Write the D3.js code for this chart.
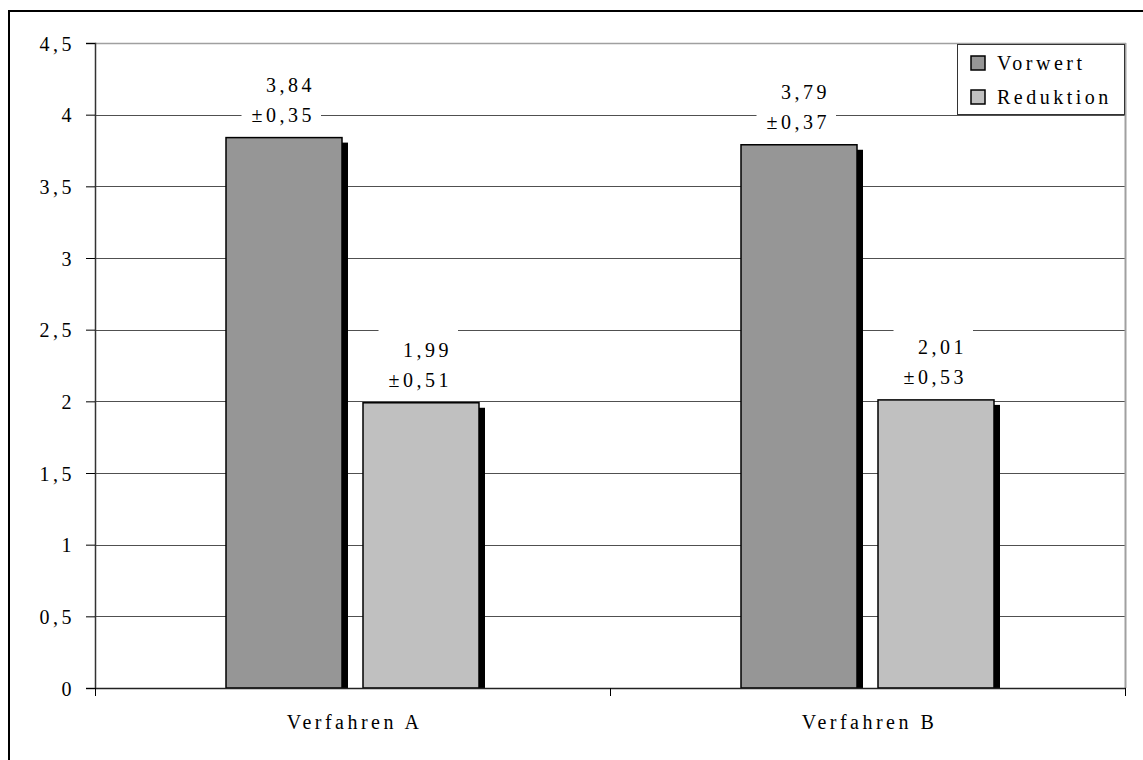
<!DOCTYPE html>
<html>
<head>
<meta charset="utf-8">
<script src="https://cdn.jsdelivr.net/npm/d3@7"></script>
<style>
  html, body { margin: 0; padding: 0; background: #fff; }
  svg text { font-family: "Liberation Serif", "Times New Roman", serif; font-size: 20px; fill: #000; letter-spacing: 3.5px; }
</style>
</head>
<body>
<svg id="chart" width="1143" height="760"></svg>
<script>
// Werte aus der Grafik
var categories = ["Verfahren A", "Verfahren B"];
var seriesNames = ["Vorwert", "Reduktion"];
var vorwert = [3.84, 3.79];
var reduktion = [1.99, 2.01];
var vorwertSd = [0.35, 0.37];
var reduktionSd = [0.51, 0.53];
var yTicks = [0, 0.5, 1, 1.5, 2, 2.5, 3, 3.5, 4, 4.5];
var seriesColors = ["#969696", "#c0c0c0"];

var de = d3.formatLocale({decimal: ",", thousands: ".", grouping: [3], currency: ["", " €"]});
var fmtTick = de.format("~g");
var fmtVal = de.format(".2f");

var svg = d3.select("#chart");

// Rahmen (rechts und unten abgeschnitten)
svg.append("rect")
	.attr("x", 9).attr("y", 11)
	.attr("width", 1160).attr("height", 780)
	.attr("fill", "none").attr("stroke", "#000").attr("stroke-width", 2);

var plotLeft = 95, plotRight = 1125, plotTop = 43, plotBottom = 688;

var xScale = d3.scaleBand()
	.domain(categories)
	.range([plotLeft, plotRight])
	.padding(0);

var x1 = d3.scaleBand()
	.domain(seriesNames)
	.range([-126.5, 126.5])
	.paddingInner(21 / 137);

var yScale = d3.scaleLinear()
	.domain([0, 4.5])
	.range([plotBottom, plotTop]);

// Gitterlinien
svg.append("g")
	.selectAll("line")
	.data(yTicks.filter(function(d){ return d > 0 && d < 4.5; }))
	.enter().append("line")
	.attr("x1", plotLeft).attr("x2", plotRight)
	.attr("y1", function(d){ return Math.round(yScale(d)) + 0.5; })
	.attr("y2", function(d){ return Math.round(yScale(d)) + 0.5; })
	.attr("stroke", "#505050").attr("stroke-width", 1);

// Plotbereich oben / rechts
svg.append("line")
	.attr("x1", plotLeft).attr("x2", plotRight + 1)
	.attr("y1", Math.round(yScale(4.5)) + 0.5).attr("y2", Math.round(yScale(4.5)) + 0.5)
	.attr("stroke", "#a0a0a0").attr("stroke-width", 1.5);
svg.append("line")
	.attr("x1", plotRight + 0.5).attr("x2", plotRight + 0.5)
	.attr("y1", yScale(4.5)).attr("y2", yScale(0))
	.attr("stroke", "#a0a0a0").attr("stroke-width", 2);

// Daten je Kategorie
var rows = categories.map(function(c, i){
	return {
		cat: c,
		values: [
			{name: seriesNames[0], value: vorwert[i], sd: vorwertSd[i], color: seriesColors[0]},
			{name: seriesNames[1], value: reduktion[i], sd: reduktionSd[i], color: seriesColors[1]}
		]
	};
});

var groups = svg.append("g").selectAll("g")
	.data(rows)
	.enter().append("g")
	.attr("transform", function(d){ return "translate(" + (xScale(d.cat) + xScale.bandwidth() / 2) + ",0)"; });

// Schatten
groups.selectAll("rect.shadow")
	.data(function(d){ return d.values; })
	.enter().append("rect")
	.attr("class", "shadow")
	.attr("x", function(d){ return x1(d.name) + 6; })
	.attr("y", function(d){ return yScale(d.value) + 5; })
	.attr("width", x1.bandwidth())
	.attr("height", function(d){ return yScale(0) - yScale(d.value) - 5; })
	.attr("fill", "#000");

// Balken
groups.selectAll("rect.bar")
	.data(function(d){ return d.values; })
	.enter().append("rect")
	.attr("class", "bar")
	.attr("x", function(d){ return x1(d.name); })
	.attr("y", function(d){ return yScale(d.value); })
	.attr("width", x1.bandwidth())
	.attr("height", function(d){ return yScale(0) - yScale(d.value); })
	.attr("fill", function(d){ return d.color; })
	.attr("stroke", "#000").attr("stroke-width", 1.5);

// Beschriftungen mit weissem Hintergrund
groups.selectAll("g.lbl")
	.data(function(d){ return d.values; })
	.enter().append("g")
	.attr("class", "lbl")
	.each(function(d){
		var g = d3.select(this);
		var xr = x1(d.name) + x1.bandwidth() / 2 + 31;
		var yTop = yScale(d.value);
		var bg = g.append("rect").attr("fill", "#fff");
		var t1 = g.append("text").attr("text-anchor", "end")
			.attr("x", xr).attr("y", yTop - 46).text(fmtVal(d.value));
		var t2 = g.append("text").attr("text-anchor", "end")
			.attr("x", xr).attr("y", yTop - 16).text("±" + fmtVal(d.sd));
		var b1 = t1.node().getBBox(), b2 = t2.node().getBBox();
		var x0 = Math.min(b1.x, b2.x) - 10;
		var xe = Math.max(b1.x + b1.width, b2.x + b2.width) + 6;
		bg.attr("x", x0).attr("y", yTop - 74)
			.attr("width", xe - x0).attr("height", 64);
	});

// Achsen
var yAxis = svg.append("g")
	.attr("transform", "translate(" + plotLeft + ",0)")
	.call(d3.axisLeft(yScale).tickValues(yTicks).tickFormat(fmtTick).tickSize(9).tickPadding(11));
yAxis.select(".domain").attr("stroke", "#333").attr("stroke-width", 1.5);
yAxis.selectAll(".tick line").attr("stroke", "#000");
yAxis.selectAll("text").attr("font-size", null).attr("font-family", null).attr("fill", "#000").attr("dy", "0.35em");

var xAxis = svg.append("g")
	.attr("transform", "translate(0," + plotBottom + ")");
xAxis.append("line")
	.attr("x1", plotLeft).attr("x2", plotRight + 1)
	.attr("y1", 0.5).attr("y2", 0.5)
	.attr("stroke", "#222").attr("stroke-width", 1.5);
xAxis.selectAll("line.tk")
	.data(xScale.domain().map(function(c){ return xScale(c); }).concat([plotRight]))
	.enter().append("line")
	.attr("class", "tk")
	.attr("x1", function(d){ return d + 0.5; }).attr("x2", function(d){ return d + 0.5; })
	.attr("y1", 0).attr("y2", 8)
	.attr("stroke", "#000");
xAxis.selectAll("text")
	.data(categories)
	.enter().append("text")
	.attr("text-anchor", "middle")
	.attr("x", function(d){ return xScale(d) + xScale.bandwidth() / 2 + 2; })
	.attr("y", 41)
	.text(function(d){ return d; });

// Legende
var legend = svg.append("g").attr("transform", "translate(957,44)");
legend.append("rect")
	.attr("x", 0.5).attr("y", 0.5).attr("width", 167).attr("height", 70)
	.attr("fill", "#fff").attr("stroke", "#333").attr("stroke-width", 1);
var items = legend.selectAll("g.item")
	.data(seriesNames)
	.enter().append("g")
	.attr("class", "item")
	.attr("transform", function(d, i){ return "translate(14," + (12 + i * 34) + ")"; });
items.append("rect")
	.attr("width", 14).attr("height", 14)
	.attr("fill", function(d, i){ return seriesColors[i]; })
	.attr("stroke", "#000").attr("stroke-width", 1.5);
items.append("text")
	.attr("x", 26).attr("y", 14)
	.text(function(d){ return d; });
</script>
</body>
</html>
